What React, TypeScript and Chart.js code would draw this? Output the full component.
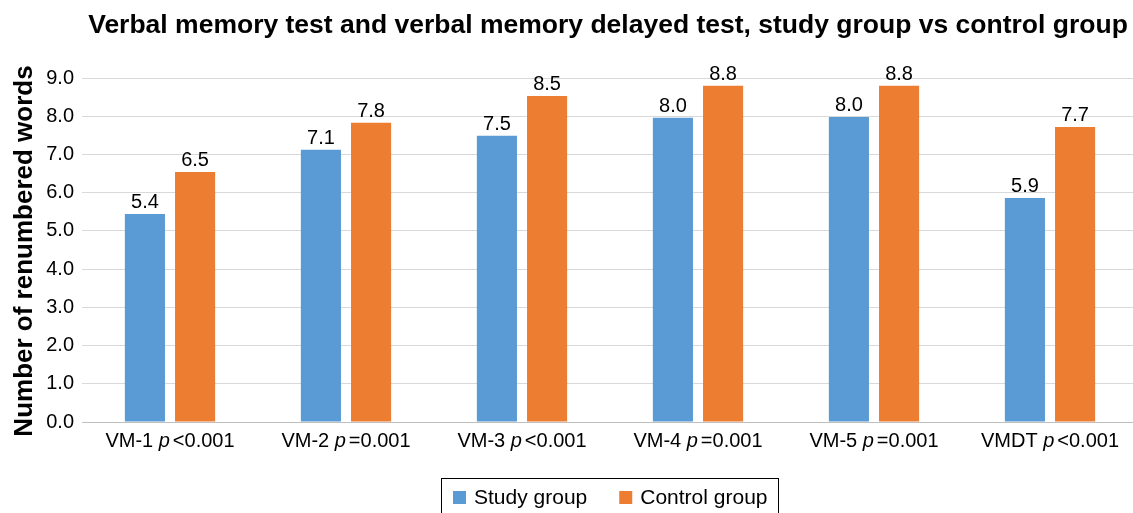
import React, { useEffect, useRef } from "react";
import { Chart, registerables } from "chart.js";

Chart.register(...registerables);

const titleText = "Verbal memory test and verbal memory delayed test, study group vs control group";
const yAxisTitle = "Number of renumbered words";
const categoryNames = ["VM-1", "VM-2", "VM-3", "VM-4", "VM-5", "VMDT"];
const pOperators = ["<", "=", "<", "=", "=", "<"];
const pValues = ["0.001", "0.001", "0.001", "0.001", "0.001", "0.001"];
const studyGroup = [5.44, 7.12, 7.49, 7.96, 7.98, 5.86];
const controlGroup = [6.54, 7.83, 8.53, 8.8, 8.8, 7.72];
const seriesNames = ["Study group", "Control group"];
const seriesColors = ["#5B9BD5", "#ED7D31"];

const FONT = "'Liberation Sans', Arial, sans-serif";

const drawPlugin = {
  id: "customDraw",
  afterDraw(chart: any) {
    const ctx = chart.ctx;
    const area = chart.chartArea;
    const cx = (area.left + area.right) / 2;
    ctx.save();
    ctx.fillStyle = "#000";
    // title
    ctx.font = `bold 26.5px ${FONT}`;
    ctx.textAlign = "center";
    ctx.textBaseline = "alphabetic";
    ctx.fillText(titleText, cx - 2, 33);
    // y axis title
    ctx.save();
    ctx.translate(32, 251);
    ctx.rotate(-Math.PI / 2);
    ctx.font = `bold 26px ${FONT}`;
    ctx.textBaseline = "alphabetic";
    ctx.fillText(yAxisTitle, 0, 0);
    ctx.restore();
    // data labels
    ctx.font = `20px ${FONT}`;
    ctx.textBaseline = "alphabetic";
    chart.data.datasets.forEach((ds: any, di: number) => {
      const meta = chart.getDatasetMeta(di);
      meta.data.forEach((bar: any, i: number) => {
        ctx.fillText(Number(ds.data[i]).toFixed(1), bar.x, bar.y - 6);
      });
    });
    // x labels with italic p
    const xs = chart.scales.x;
    ctx.textAlign = "left";
    ctx.textBaseline = "alphabetic";
    categoryNames.forEach((name, i) => {
      const x = xs.getPixelForTick(i);
      const a = name + " ";
      const b = "p";
      const c = pOperators[i] + pValues[i];
      ctx.font = `20px ${FONT}`;
      const wa = ctx.measureText(a).width;
      const wc = ctx.measureText(c).width;
      ctx.font = `italic 20px ${FONT}`;
      const wb = ctx.measureText(b).width + 3;
      const total = wa + wb + wc;
      let px = x - total / 2;
      const y = 447;
      ctx.font = `20px ${FONT}`;
      ctx.fillText(a, px, y);
      px += wa;
      ctx.font = `italic 20px ${FONT}`;
      ctx.fillText(b, px, y);
      px += wb;
      ctx.font = `20px ${FONT}`;
      ctx.fillText(c, px, y);
    });
    // legend
    ctx.font = `21px ${FONT}`;
    const box = 13;
    const gapBoxText = 8;
    const gapItems = 32;
    const widths = seriesNames.map((n) => ctx.measureText(n).width);
    const inner = widths.reduce((s, w) => s + box + gapBoxText + w, 0) + gapItems;
    const padL = 12;
    const padR = 11;
    const lw = inner + padL + padR;
    const lx = Math.round(cx - lw / 2);
    const ly = 478;
    ctx.strokeStyle = "#000";
    ctx.lineWidth = 1;
    ctx.strokeRect(lx + 0.5, ly + 0.5, Math.round(lw), 40);
    let px = lx + padL;
    ctx.textBaseline = "alphabetic";
    seriesNames.forEach((n, i) => {
      ctx.fillStyle = seriesColors[i];
      ctx.fillRect(px, 491, box, box);
      px += box + gapBoxText;
      ctx.fillStyle = "#000";
      ctx.fillText(n, px, 504);
      px += widths[i] + gapItems;
    });
    ctx.restore();
  },
};

export default function App() {
  const ref = useRef<HTMLCanvasElement | null>(null);
  useEffect(() => {
    if (!ref.current) return;
    const chart = new Chart(ref.current, {
      type: "bar",
      data: {
        labels: categoryNames,
        datasets: [
          { label: seriesNames[0], data: studyGroup, backgroundColor: seriesColors[0], barPercentage: 0.8, categoryPercentage: 0.57 },
          { label: seriesNames[1], data: controlGroup, backgroundColor: seriesColors[1], barPercentage: 0.8, categoryPercentage: 0.57 },
        ],
      },
      options: {
        animation: false,
        responsive: false,
        devicePixelRatio: 1,
        layout: { padding: { top: 78, left: 0, right: 0, bottom: 0 } },
        plugins: { legend: { display: false }, title: { display: false }, tooltip: { enabled: false } },
        scales: {
          x: {
            grid: { display: false },
            border: { color: "#BFBFBF", width: 1 },
            ticks: { display: false },
            afterFit: (s: any) => { s.height = 91; },
          },
          y: {
            min: 0,
            max: 9,
            ticks: {
              stepSize: 1,
              padding: 8,
              color: "#000",
              font: { family: FONT, size: 20 },
              callback: (v: any) => Number(v).toFixed(1),
            },
            grid: { color: "#D9D9D9", lineWidth: 1, drawTicks: false },
            border: { display: false },
            afterFit: (s: any) => { s.width = 82; },
          },
        },
      },
      plugins: [drawPlugin],
    });
    return () => chart.destroy();
  }, []);
  return (
    <div style={{ position: "fixed", left: 0, top: 0, width: 1138, height: 513, background: "#fff" }}>
      <canvas ref={ref} width={1138} height={513} style={{ width: 1138, height: 513, display: "block" }} />
    </div>
  );
}
